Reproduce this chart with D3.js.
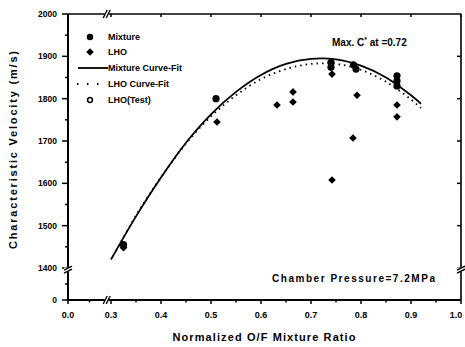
<!DOCTYPE html>
<html>
<head>
<meta charset="utf-8">
<script src="https://cdn.jsdelivr.net/npm/d3@7"></script>
<style>
  html, body { margin: 0; padding: 0; background: #fff; }
  svg { display: block; }
  text { font-family: "Liberation Sans", Arial, sans-serif; font-weight: bold; fill: #000; }
</style>
</head>
<body>
<svg id="chart" width="465" height="347"></svg>
<script>
// Normalized O/F mixture ratio vs characteristic velocity (m/s)
const xTicks = [0.0, 0.3, 0.4, 0.5, 0.6, 0.7, 0.8, 0.9, 1.0];
const xTickLabels = ["0.0", "0.3", "0.4", "0.5", "0.6", "0.7", "0.8", "0.9", "1.0"];
const xMinor = [0.15, 0.35, 0.45, 0.55, 0.65, 0.75, 0.85, 0.95];
const yTicks = [0, 1400, 1500, 1600, 1700, 1800, 1900, 2000];
const yTickLabels = ["0", "1400", "1500", "1600", "1700", "1800", "1900", "2000"];
const yMinor = [700, 1450, 1550, 1650, 1750, 1850, 1950];

// Mixture test points [O/F ratio, C*]
const mixtureRatio = [0.325, 0.51, 0.74, 0.74, 0.785, 0.79, 0.872, 0.872, 0.872];
const mixtureCstar = [1455, 1800, 1886, 1874, 1880, 1870, 1854, 1842, 1830];

// LHO test points
const lhoRatio = [0.325, 0.512, 0.632, 0.664, 0.664, 0.742, 0.742, 0.784, 0.792, 0.872, 0.872];
const lhoCstar = [1448, 1745, 1785, 1816, 1792, 1858, 1608, 1707, 1808, 1785, 1757];

// LHO(Test) points
const lhoTestRatio = [];
const lhoTestCstar = [];

// Mixture curve-fit
const mixFitRatio = [0.30, 0.35, 0.40, 0.45, 0.50, 0.55, 0.60, 0.65, 0.70, 0.75, 0.80, 0.85, 0.90, 0.92];
const mixFitCstar = [1420, 1522, 1614, 1696, 1763, 1816, 1856, 1882, 1894, 1893, 1878, 1850, 1808, 1788];

// LHO curve-fit
const lhoFitRatio = [0.31, 0.35, 0.40, 0.45, 0.50, 0.55, 0.60, 0.65, 0.70, 0.75, 0.80, 0.85, 0.90, 0.92];
const lhoFitCstar = [1440, 1524, 1614, 1694, 1758, 1808, 1846, 1870, 1882, 1882, 1868, 1840, 1798, 1778];

const svg = d3.select("#chart");
svg.append("rect").attr("width", 465).attr("height", 347).attr("fill", "#fff");

// Broken axes: 0.0–0.3 and 0–1400 compressed
const x = d3.scaleLinear().domain([0, 0.3, 1.0]).range([68, 111, 461]);
const y = d3.scaleLinear().domain([0, 1400, 2000]).range([300, 268, 14]);

const plotL = 68, plotR = 461, plotT = 14, plotB = 300;

const frame = svg.append("g").attr("stroke", "#000").attr("fill", "none");
frame.append("line").attr("x1", plotL).attr("x2", plotL).attr("y1", plotT).attr("y2", plotB).attr("stroke-width", 2);
frame.append("line").attr("x1", plotR).attr("x2", plotR).attr("y1", plotT).attr("y2", plotB).attr("stroke-width", 1.6);
frame.append("line").attr("x1", plotL).attr("x2", plotR).attr("y1", plotB).attr("y2", plotB).attr("stroke-width", 2);
frame.append("line").attr("x1", plotL).attr("x2", plotR).attr("y1", plotT).attr("y2", plotT).attr("stroke-width", 1.6);

// Ticks
const ticks = svg.append("g").attr("stroke", "#000").attr("stroke-width", 1.5);
xTicks.forEach(v => {
  ticks.append("line").attr("x1", x(v)).attr("x2", x(v)).attr("y1", plotB).attr("y2", plotB + 4);
  if (v > 0) ticks.append("line").attr("x1", x(v)).attr("x2", x(v)).attr("y1", plotT).attr("y2", plotT + 3);
});
xMinor.forEach(v => {
  ticks.append("line").attr("x1", x(v)).attr("x2", x(v)).attr("y1", plotB).attr("y2", plotB + 2.5);
});
yTicks.forEach(v => {
  ticks.append("line").attr("x1", plotL - 6).attr("x2", plotL).attr("y1", y(v)).attr("y2", y(v));
  if (v > 0 && v < 2000) ticks.append("line").attr("x1", plotR - 4).attr("x2", plotR).attr("y1", y(v)).attr("y2", y(v));
});
yMinor.forEach(v => {
  ticks.append("line").attr("x1", plotL - 3).attr("x2", plotL).attr("y1", y(v)).attr("y2", y(v));
});

// Axis break marks
function breakMark(cx, cy, vertical) {
  const g = svg.append("g").attr("stroke", "#000").attr("stroke-width", 1.4);
  g.append("rect").attr("x", vertical ? cx - 4 : cx - 2).attr("y", vertical ? cy - 2 : cy - 4)
    .attr("width", vertical ? 8 : 4).attr("height", vertical ? 4 : 8).attr("fill", "#fff").attr("stroke", "none");
  [-1.5, 1.5].forEach(o => {
    if (vertical) g.append("line").attr("x1", cx - 4).attr("x2", cx + 4).attr("y1", cy + o + 2).attr("y2", cy + o - 2);
    else g.append("line").attr("x1", cx + o - 2).attr("x2", cx + o + 2).attr("y1", cy + 4).attr("y2", cy - 4);
  });
}
breakMark(x(0.27), plotB, false);
breakMark(x(0.27), plotT, false);
breakMark(plotL, y(1330), true);
breakMark(plotR, y(1330), true);

// Tick labels
const xl = svg.append("g").attr("font-size", 9).attr("text-anchor", "middle");
xTicks.forEach((v, i) => xl.append("text").attr("x", Math.min(x(v), 456)).attr("y", plotB + 18).text(xTickLabels[i]));
const yl = svg.append("g").attr("font-size", 8.5).attr("text-anchor", "end");
yTicks.forEach((v, i) => yl.append("text").attr("x", plotL - 11).attr("y", y(v) + 3).text(yTickLabels[i]));

// Axis titles
svg.append("text").attr("x", 264).attr("y", 341).attr("text-anchor", "middle").attr("font-size", 11)
  .attr("textLength", 183).text("Normalized O/F Mixture Ratio");
svg.append("text").attr("transform", "translate(17,150) rotate(-90)").attr("text-anchor", "middle")
  .attr("font-size", 11).attr("textLength", 198).text("Characteristic Velocity (m/s)");

// Fit curves
const line = d3.line().x(d => x(d[0])).y(d => y(d[1])).curve(d3.curveCatmullRom);
svg.append("path").datum(mixFitRatio.map((r, i) => [r, mixFitCstar[i]]))
  .attr("d", line).attr("fill", "none").attr("stroke", "#000").attr("stroke-width", 1.8);
svg.append("path").datum(lhoFitRatio.map((r, i) => [r, lhoFitCstar[i]]))
  .attr("d", line).attr("fill", "none").attr("stroke", "#000").attr("stroke-width", 1.8)
  .attr("stroke-dasharray", "1.5,4");

// Points
const diamond = "M0,-3.8L3.8,0L0,3.8L-3.8,0Z";
svg.append("g").selectAll("path").data(lhoRatio.map((r, i) => [r, lhoCstar[i]])).join("path")
  .attr("transform", d => `translate(${x(d[0])},${y(d[1])})`).attr("d", diamond).attr("fill", "#000");
svg.append("g").selectAll("circle").data(mixtureRatio.map((r, i) => [r, mixtureCstar[i]])).join("circle")
  .attr("cx", d => x(d[0])).attr("cy", d => y(d[1])).attr("r", 3.6).attr("fill", "#000");
svg.append("g").selectAll("circle").data(lhoTestRatio.map((r, i) => [r, lhoTestCstar[i]])).join("circle")
  .attr("cx", d => x(d[0])).attr("cy", d => y(d[1])).attr("r", 2.6).attr("fill", "#fff").attr("stroke", "#000").attr("stroke-width", 1.5);

// Legend
const lg = svg.append("g").attr("font-size", 9);
const lgX = 90, lgText = 108;
const rows = [37, 52, 68, 84, 100];
lg.append("circle").attr("cx", lgX).attr("cy", rows[0]).attr("r", 3.2).attr("fill", "#000");
lg.append("path").attr("transform", `translate(${lgX},${rows[1]})`).attr("d", diamond).attr("fill", "#000");
lg.append("line").attr("x1", 78).attr("x2", 108).attr("y1", rows[2]).attr("y2", rows[2]).attr("stroke", "#000").attr("stroke-width", 1.8);
lg.append("line").attr("x1", 77).attr("x2", 106).attr("y1", rows[3]).attr("y2", rows[3]).attr("stroke", "#000").attr("stroke-width", 1.8).attr("stroke-dasharray", "1.5,8.5");
lg.append("circle").attr("cx", lgX).attr("cy", rows[4]).attr("r", 2.4).attr("fill", "#fff").attr("stroke", "#000").attr("stroke-width", 1.5);
const names = ["Mixture", "LHO", "Mixture Curve-Fit", "LHO Curve-Fit", "LHO(Test)"];
names.forEach((n, i) => lg.append("text").attr("x", lgText).attr("y", rows[i] + 3.2).text(n));

// Annotations
const ann = svg.append("text").attr("x", 332).attr("y", 46).attr("font-size", 10);
ann.append("tspan").text("Max. C");
ann.append("tspan").attr("dy", -4).attr("font-size", 7).text("*");
ann.append("tspan").attr("dy", 4).text(" at =0.72");
svg.append("text").attr("x", 272).attr("y", 282).attr("font-size", 10).attr("textLength", 163)
  .text("Chamber Pressure=7.2MPa");
</script>
</body>
</html>
